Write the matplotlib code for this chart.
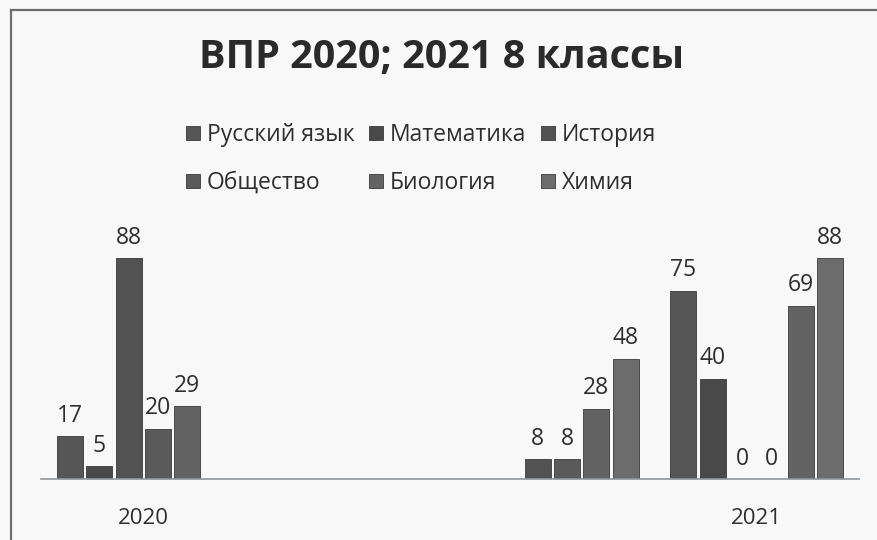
import numpy as np
import matplotlib
matplotlib.use("Agg")
import matplotlib.pyplot as plt
from matplotlib.lines import Line2D

plt.rcParams['font.family'] = ['Open Sans', 'DejaVu Sans']

# ---- data ----
categories = ["2020", "", "", "2021"]
series_names = ["Русский язык", "Математика", "История", "Общество", "Биология", "Химия"]
russian = [17, np.nan, np.nan, 75]
math_ = [5, np.nan, np.nan, 40]
history = [88, np.nan, 8, 0]
society = [20, np.nan, 8, 0]
biology = [29, np.nan, 28, 69]
chemistry = [np.nan, np.nan, 48, 88]
series_values = [russian, math_, history, society, biology, chemistry]

colors = ["#565656", "#494949", "#525252", "#5a5a5a", "#636363", "#6c6c6c"]

fig = plt.figure(figsize=(8.77, 5.40), dpi=100, facecolor="#f8f8f8")
ax = fig.add_axes([0.0468, 0.1130, 0.9327, 0.4648])
ax.set_facecolor("none")

x = np.arange(len(categories))
slot = 0.1434
bw = 0.127
n = len(series_names)
handles = []
for i, (name, vals, c) in enumerate(zip(series_names, series_values, colors)):
    offs = (i - (n - 1) / 2) * slot
    vals = np.array(vals, dtype=float)
    bars = ax.bar(x + offs, vals, width=bw, color=c, edgecolor="#3a3a3a",
                  linewidth=0.6, label=name, zorder=2)
    handles.append(bars)
    for xi, v in zip(x + offs, vals):
        if np.isnan(v):
            continue
        ax.annotate(f"{int(v)}", (xi, v), xytext=(0, 6), textcoords="offset points",
                    ha="center", va="bottom", fontsize=16.5, color="#2e2e2e")

ax.set_xlim(-0.5, len(categories) - 0.5)
ax.set_ylim(0, 100)
ax.set_xticks(x)
ax.set_xticklabels(categories, fontsize=16, color="#2e2e2e")
ax.tick_params(axis="x", length=0, pad=21)
ax.set_yticks([])
for s in ["top", "left", "right"]:
    ax.spines[s].set_visible(False)
ax.spines["bottom"].set_color("#8a96a0")
ax.spines["bottom"].set_linewidth(1.2)

fig.text(0.503, 1 - 58 / 540, "ВПР 2020; 2021 8 классы", ha="center", va="center",
         fontsize=28.5, fontweight="bold", color="#2a2a2a")

order = [0, 3, 1, 4, 2, 5]
leg = fig.legend([handles[k] for k in order], [series_names[k] for k in order],
                 ncol=3, loc="center", bbox_to_anchor=(0.48, 1 - 159 / 540),
                 frameon=False, fontsize=16.5, handlelength=0.6, handleheight=0.6,
                 handletextpad=0.3, columnspacing=0.65, labelspacing=1.05)
for t in leg.get_texts():
    t.set_color("#2e2e2e")

# scan border (top and left edges)
fig.add_artist(Line2D([11 / 877, 11 / 877], [0, 1 - 10 / 540], transform=fig.transFigure,
                      color="#6e6e6e", linewidth=1.6))
fig.add_artist(Line2D([11 / 877, 1], [1 - 10 / 540, 1 - 10 / 540], transform=fig.transFigure,
                      color="#6e6e6e", linewidth=1.6))

fig.savefig("out.png", dpi=100, facecolor=fig.get_facecolor())
